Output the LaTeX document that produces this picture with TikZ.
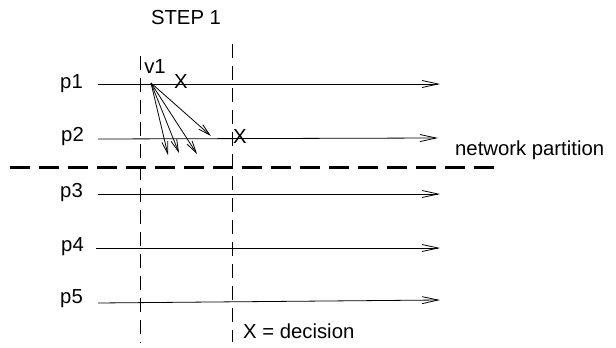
\documentclass[tikz,border=0pt]{standalone}
\usepackage{fontspec}
\setmainfont{Liberation Sans}
\usetikzlibrary{arrows.meta}
\begin{document}
\begin{tikzpicture}[x=1pt,y=-1pt,
  lbl/.style={inner sep=0pt,font=\fontsize{20.3}{24}\selectfont},
  proc/.style={line width=0.8pt,-{Straight Barb[length=16pt,width=7pt,line width=0.8pt]}},
  msg/.style={line width=0.8pt,-{Straight Barb[length=12pt,width=6pt,line width=0.8pt]}},
  cut/.style={line width=0.8pt,dash pattern=on 14pt off 8pt},
  partition/.style={line width=3pt,dash pattern=on 20pt off 9pt}]
\useasboundingbox (0,0) rectangle (616,348);
% labels
\node[lbl] (step) at (186,18) {STEP 1};
\node[lbl,anchor=east] (p1) at (83,84) {p1};
\node[lbl,anchor=east] (p2) at (84,137) {p2};
\node[lbl,anchor=east] (p3) at (83,193) {p3};
\node[lbl,anchor=east] (p4) at (84,247) {p4};
\node[lbl,anchor=east] (p5) at (83,299) {p5};
\node[lbl,anchor=west] (net) at (455,150) {network partition};
\node[lbl,anchor=west] (dec) at (243,331) {X = decision};
\node[lbl] (v1) at (155,67) {v1};
\node[lbl] (x1) at (181,82) {X};
\node[lbl] (x2) at (240,137) {X};
% process lines
\coordinate (a1) at (98,84);  \coordinate (b1) at (440,84);
\coordinate (a2) at (98,139); \coordinate (b2) at (438,138);
\coordinate (a3) at (98,194); \coordinate (b3) at (440,194);
\coordinate (a4) at (96,248); \coordinate (b4) at (440,248);
\coordinate (a5) at (98,303); \coordinate (b5) at (440,300);
\draw[proc] (a1) -- (b1);
\draw[proc] (a2) -- (b2);
\draw[proc] (a3) -- (b3);
\draw[proc] (a4) -- (b4);
\draw[proc] (a5) -- (b5);
% cut lines
\coordinate (c1t) at (140,56); \coordinate (c1b) at (140,343);
\coordinate (c2t) at (232,44); \coordinate (c2b) at (232,342);
\draw[cut] (c1t) -- (c1b);
\draw[cut] (c2t) -- (c2b);
% partition
\coordinate (pl) at (10,167); \coordinate (pr) at (497,167);
\draw[partition] (pl) -- (pr);
% messages from v1
\coordinate (o) at (151,83);
\coordinate (m1) at (211,136);
\coordinate (m2) at (197,154);
\coordinate (m3) at (179,153);
\coordinate (m4) at (168,155);
\draw[msg] (o) -- (m1);
\draw[msg] (o) -- (m2);
\draw[msg] (o) -- (m3);
\draw[msg] (o) -- (m4);
\end{tikzpicture}
\end{document}
